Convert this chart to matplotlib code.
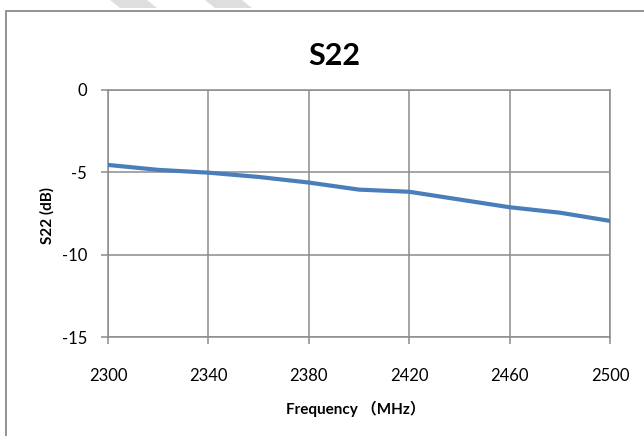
import matplotlib.pyplot as plt
from matplotlib.patches import Rectangle, Polygon

# S22 sweep
freq = [2300, 2320, 2340, 2360, 2380, 2400, 2420, 2440, 2460, 2480, 2500]
s22 = [-4.55, -4.85, -5.02, -5.28, -5.62, -6.05, -6.18, -6.65, -7.12, -7.45, -7.95]

xticks = [2300, 2340, 2380, 2420, 2460, 2500]
yticks = [0, -5, -10, -15]

fonts = ['Lato', 'Noto Sans CJK SC', 'DejaVu Sans']
plt.rcParams['font.family'] = fonts
plt.rcParams['axes.unicode_minus'] = False

W, H = 644, 436
fig = plt.figure(figsize=(W / 100, H / 100), dpi=100)

# faint watermark pieces along the top edge
for x0 in (110, 205):
    pts = [(x0, H), (x0 + 37, H), (x0 + 47, H - 8), (x0 + 10, H - 8)]
    fig.patches.append(Polygon([(px / W, py / H) for px, py in pts],
                               closed=True, transform=fig.transFigure,
                               facecolor='#dedede', edgecolor='none'))

# chart border (right and bottom run off the picture)
fig.patches.append(Rectangle((6 / W, -0.05), 1.1, (H - 11) / H + 0.05,
                             transform=fig.transFigure, fill=False,
                             edgecolor='#8a8a8a', linewidth=1.3))

ax = fig.add_axes([108 / W, 1 - 337 / H, (610 - 108) / W, (337 - 90) / H])
ax.plot(freq, s22, color='#4a7ebb', linewidth=3.0, solid_joinstyle='round',
        solid_capstyle='round', zorder=3)

ax.set_xlim(2300, 2500)
ax.set_ylim(-15, 0)
ax.set_xticks(xticks)
ax.set_yticks(yticks)
ax.grid(True, color='#8c8c8c', linewidth=1.1)
ax.set_axisbelow(True)
for side in ax.spines.values():
    side.set_color('#8c8c8c')
    side.set_linewidth(1.1)
ax.tick_params(axis='both', direction='out', length=5, width=1.1,
               color='#8c8c8c', labelsize=12, labelcolor='black')
ax.tick_params(axis='x', pad=17)
ax.tick_params(axis='y', pad=10)

fig.text(334 / W, 1 - 56 / H, 'S22', fontsize=22, fontweight='bold',
         ha='center', va='center')
fig.text(356 / W, 1 - 409 / H, 'Frequency （MHz）', fontsize=11,
         fontweight='bold', ha='center', va='center', family=fonts)
fig.text(47 / W, 1 - 215 / H, 'S22 (dB)', fontsize=11, fontweight='bold',
         ha='center', va='center', rotation=90)

fig.savefig('out.png', dpi=100)
